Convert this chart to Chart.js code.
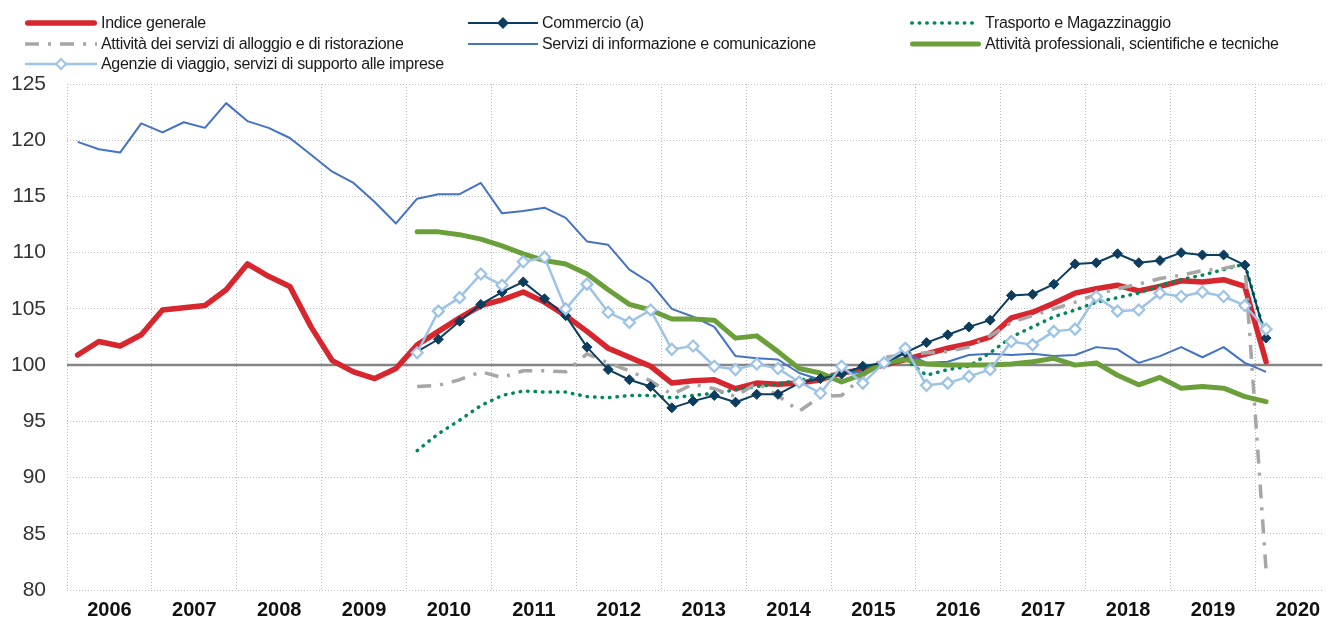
<!DOCTYPE html>
<html>
<head>
<meta charset="utf-8">
<script src="https://cdn.jsdelivr.net/npm/chart.js@4.4.1/dist/chart.umd.min.js"></script>
<style>
  body { margin: 0; background: #fff; }
  #wrap { position: relative; width: 1330px; height: 621px; overflow: hidden; }
  #myChart { position: absolute; left: 0; top: 0; }
  #legend { position: absolute; left: 0; top: 0; width: 1330px; height: 80px;
    font-family: "Liberation Sans Narrow", "Arial Narrow", "Liberation Sans", sans-serif;
    font-size: 16px; letter-spacing: -0.3px; color: #1a1a1a; }
  .item { position: absolute; height: 20px; display: flex; align-items: center; white-space: nowrap; }
  .item svg { display: block; margin-right: 4px; }
</style>
</head>
<body>
<div id="wrap">
  <canvas id="myChart" width="1330" height="621"></canvas>
  <div id="legend"></div>
</div>
<script>
// years on the axis (one label per year, quarterly data)
const years = [2006, 2007, 2008, 2009, 2010, 2011, 2012, 2013, 2014, 2015, 2016, 2017, 2018, 2019, 2020];
const quarters = [];
years.forEach(y => { for (let q = 1; q <= 4; q++) quarters.push(y + "T" + q); });

const indiceGenerale = [
  100.9, 102.1, 101.7, 102.7, 104.9, 105.1, 105.3, 106.7, 109.0, 107.9, 107.0, 103.4, 100.4, 99.4, 98.8, 99.7,
  101.8, 103.0, 104.2, 105.3, 105.8, 106.5, 105.6, 104.4, 103.0, 101.5, 100.7, 99.9,
  98.4, 98.6, 98.7, 97.9, 98.4, 98.3, 98.4, 98.7,
  99.3, 99.6, 100.0, 100.5, 101.0, 101.5, 101.9, 102.5,
  104.2, 104.7, 105.5, 106.4, 106.8, 107.1, 106.6, 107.0,
  107.5, 107.4, 107.6, 107.0, 100.3
];
const commercio = [
  null, null, null, null, null, null, null, null, null, null, null, null, null, null, null, null,
  101.2, 102.3, 103.9, 105.4, 106.5, 107.4, 105.9, 104.4, 101.6, 99.6, 98.7, 98.1,
  96.2, 96.8, 97.3, 96.7, 97.4, 97.4, 98.4, 98.8,
  99.2, 99.9, 100.2, 101.1, 102.0, 102.7, 103.4, 104.0,
  106.2, 106.3, 107.2, 109.0, 109.1, 109.9, 109.1, 109.3,
  110.0, 109.8, 109.8, 108.9, 102.4
];
const trasporto = [
  null, null, null, null, null, null, null, null, null, null, null, null, null, null, null, null,
  92.4, 93.9, 95.1, 96.4, 97.3, 97.7, 97.6, 97.6, 97.2, 97.1, 97.3, 97.3,
  97.1, 97.3, 97.5, 97.8, 98.1, 98.3, 98.7, 98.8,
  99.4, 99.7, 100.0, 100.5, 99.1, 99.6, 99.9, 101.1,
  102.5, 103.4, 104.3, 104.9, 105.6, 106.0, 106.4, 107.1,
  107.6, 108.0, 108.5, 109.0, 102.4
];
const alloggio = [
  null, null, null, null, null, null, null, null, null, null, null, null, null, null, null, null,
  98.1, 98.2, 98.7, 99.4, 98.9, 99.5, 99.5, 99.4, 101.0, 100.2, 99.5, 98.6,
  97.4, 98.3, 97.9, 97.2, 98.4, 97.3, 95.9, 97.2,
  97.3, 99.0, 100.7, 100.9, 101.1, 101.2, 101.6, 102.6,
  103.8, 104.4, 105.0, 105.6, 106.3, 106.8, 107.2, 107.7,
  108.0, 108.4, 108.6, 109.0, 81.8
];
const informazione = [
  119.85, 119.2, 118.9, 121.5, 120.7, 121.6, 121.1, 123.3, 121.7, 121.1, 120.2, 118.7, 117.2, 116.2, 114.5, 112.6,
  114.8, 115.2, 115.2, 116.2, 113.5, 113.7, 114.0, 113.1, 111.0, 110.7, 108.5, 107.3,
  105.0, 104.3, 103.4, 100.8, 100.6, 100.5, 99.3, 98.7,
  99.3, 99.4, 99.9, 101.1, 100.2, 100.3, 100.9, 101.0,
  100.9, 101.0, 100.8, 100.9, 101.6, 101.4, 100.2, 100.8,
  101.6, 100.7, 101.6, 100.2, 99.4
];
const professionali = [
  null, null, null, null, null, null, null, null, null, null, null, null, null, null, null, null,
  111.85, 111.85, 111.6, 111.2, 110.6, 109.9, 109.3, 109.0, 108.1, 106.7, 105.4, 104.9,
  104.1, 104.1, 104.0, 102.4, 102.6, 101.2, 99.7, 99.3,
  98.5, 99.2, 100.2, 100.5, 100.1, 100.0, 100.0, 100.0,
  100.1, 100.3, 100.6, 100.0, 100.2, 99.1, 98.25, 98.9,
  97.95, 98.1, 97.95, 97.2, 96.75
];
const agenzie = [
  null, null, null, null, null, null, null, null, null, null, null, null, null, null, null, null,
  101.1, 104.8, 106.0, 108.1, 107.1, 109.2, 109.6, 105.0, 107.2, 104.7, 103.8, 104.9,
  101.4, 101.7, 99.9, 99.6, 100.1, 99.7, 98.5, 97.5,
  99.9, 98.4, 100.2, 101.5, 98.2, 98.4, 99.0, 99.6,
  102.1, 101.8, 103.0, 103.2, 106.1, 104.8, 104.9, 106.4,
  106.1, 106.5, 106.1, 105.3, 103.2
];

const FONT = "'Liberation Sans Narrow', 'Arial Narrow', 'Liberation Sans', sans-serif";

function points(values) {
  let out = [];
  for (let i = 0; i < values.length; i++) {
    if (values[i] !== null) out.push({ x: i + 0.5, y: values[i] });
  }
  return out;
}

// legend slots: column / row, like the original three-column legend
const series = [
  { label: "Indice generale", data: indiceGenerale, color: "#d7262e", width: 5.5, dash: [], cap: "round", col: 0, row: 0, order: 7 },
  { label: "Commercio (a)", data: commercio, color: "#0c3c5e", width: 2, dash: [], marker: "filled", col: 1, row: 0, order: 2 },
  { label: "Trasporto e Magazzinaggio", data: trasporto, color: "#00875a", width: 3.5, dash: [0.5, 7], cap: "round", col: 2, row: 0, order: 5 },
  { label: "Attività dei servizi di alloggio e di ristorazione", data: alloggio, color: "#a6a6a6", width: 3.5, dash: [14, 9, 3, 9], col: 0, row: 1, order: 4 },
  { label: "Servizi di informazione e comunicazione", data: informazione, color: "#4472c4", width: 2, dash: [], col: 1, row: 1, order: 6 },
  { label: "Attività professionali, scientifiche e tecniche", data: professionali, color: "#6b9f3a", width: 5, dash: [], cap: "round", col: 2, row: 1, order: 3 },
  { label: "Agenzie di viaggio, servizi di supporto alle imprese", data: agenzie, color: "#9dc3e6", width: 2.5, dash: [], marker: "open", col: 0, row: 2, order: 1 }
];

const legendCols = [{ x: 25, w: 72 }, { x: 468, w: 70 }, { x: 910, w: 71 }];
const legendRows = [13, 34, 54];

const legend = document.getElementById("legend");
series.forEach(s => {
  const item = document.createElement("div");
  item.className = "item";
  item.style.left = legendCols[s.col].x + "px";
  item.style.top = legendRows[s.row] + "px";
  const w = legendCols[s.col].w;
  let svg = '<svg width="' + w + '" height="20">';
  svg += '<line x1="' + (s.cap === "round" ? s.width / 2 : 0) + '" y1="10" x2="' + (w - (s.cap === "round" ? s.width / 2 : 0)) + '" y2="10" stroke="' + s.color +
    '" stroke-width="' + s.width + '" stroke-linecap="' + (s.cap || "butt") + '"' +
    (s.dash.length ? ' stroke-dasharray="' + s.dash.join(",") + '"' : '') + '/>';
  if (s.marker) {
    const c = w / 2, r = s.marker === "open" ? 5 : 4.5;
    svg += '<polygon points="' + c + ',' + (10 - r) + ' ' + (c + r) + ',10 ' + c + ',' + (10 + r) + ' ' + (c - r) + ',10" fill="' +
      (s.marker === "open" ? "#fff" : s.color) + '" stroke="' + s.color + '" stroke-width="2"/>';
  }
  svg += '</svg>';
  item.innerHTML = svg + '<span>' + s.label + '</span>';
  legend.appendChild(item);
});

// solid reference line at 100, under the series
const baseLine = {
  id: "baseLine",
  beforeDatasetsDraw(chart) {
    const ctx = chart.ctx, area = chart.chartArea;
    const y = chart.scales.y.getPixelForValue(100);
    ctx.save();
    ctx.strokeStyle = "#858585";
    ctx.lineWidth = 2.5;
    ctx.beginPath();
    ctx.moveTo(area.left, y);
    ctx.lineTo(area.right, y);
    ctx.stroke();
    ctx.restore();
  }
};

let covidChart = new Chart(document.getElementById("myChart"), {
  type: "line",
  data: {
    datasets: series.map(s => ({
      label: s.label,
      data: points(s.data),
      borderColor: s.color,
      backgroundColor: s.marker === "open" ? "#ffffff" : s.color,
      borderWidth: s.width,
      borderDash: s.dash,
      borderCapStyle: s.cap || "butt",
      borderJoinStyle: "round",
      pointStyle: "rectRot",
      pointRadius: s.marker ? (s.marker === "open" ? 5.5 : 5) : 0,
      pointBorderWidth: s.marker === "open" ? 2.2 : 1,
      pointBorderColor: s.color,
      pointBackgroundColor: s.marker === "open" ? "#ffffff" : s.color,
      tension: 0,
      order: s.order
    }))
  },
  options: {
    responsive: false,
    animation: false,
    events: [],
    layout: { padding: { top: 84, right: 0, bottom: 0, left: 0 } },
    plugins: { legend: { display: false }, tooltip: { enabled: false } },
    scales: {
      x: {
        type: "linear",
        min: 0,
        max: 59.15,
        afterBuildTicks(scale) {
          let t = [];
          for (let v = 0; v <= 58; v += 2) t.push({ value: v });
          scale.ticks = t;
        },
        afterFit(scale) { scale.height = 31; },
        grid: {
          drawTicks: false,
          color: ctx => (ctx.tick && ctx.tick.value % 4 === 0) ? "#bdbdbd" : "rgba(0,0,0,0)",
          lineWidth: 1
        },
        border: { display: false, dash: [1, 2] },
        ticks: {
          autoSkip: false,
          maxRotation: 0,
          padding: 8,
          color: "#111",
          font: { family: FONT, size: 20, weight: "bold" },
          callback: v => (v % 4 === 2) ? String(years[(v - 2) / 4]) : ""
        }
      },
      y: {
        min: 80,
        max: 125,
        afterFit(scale) { scale.width = 67; },
        grid: {
          drawTicks: true,
          tickLength: 21,
          tickColor: "rgba(0,0,0,0)",
          color: ctx => (ctx.tick && ctx.tick.value === 100) ? "rgba(0,0,0,0)" : "#bdbdbd",
          lineWidth: 1
        },
        border: { display: false, dash: [1, 2] },
        ticks: {
          stepSize: 5,
          padding: 0,
          color: "#333",
          font: { family: FONT, size: 21 }
        }
      }
    }
  },
  plugins: [baseLine]
});
</script>
</body>
</html>
